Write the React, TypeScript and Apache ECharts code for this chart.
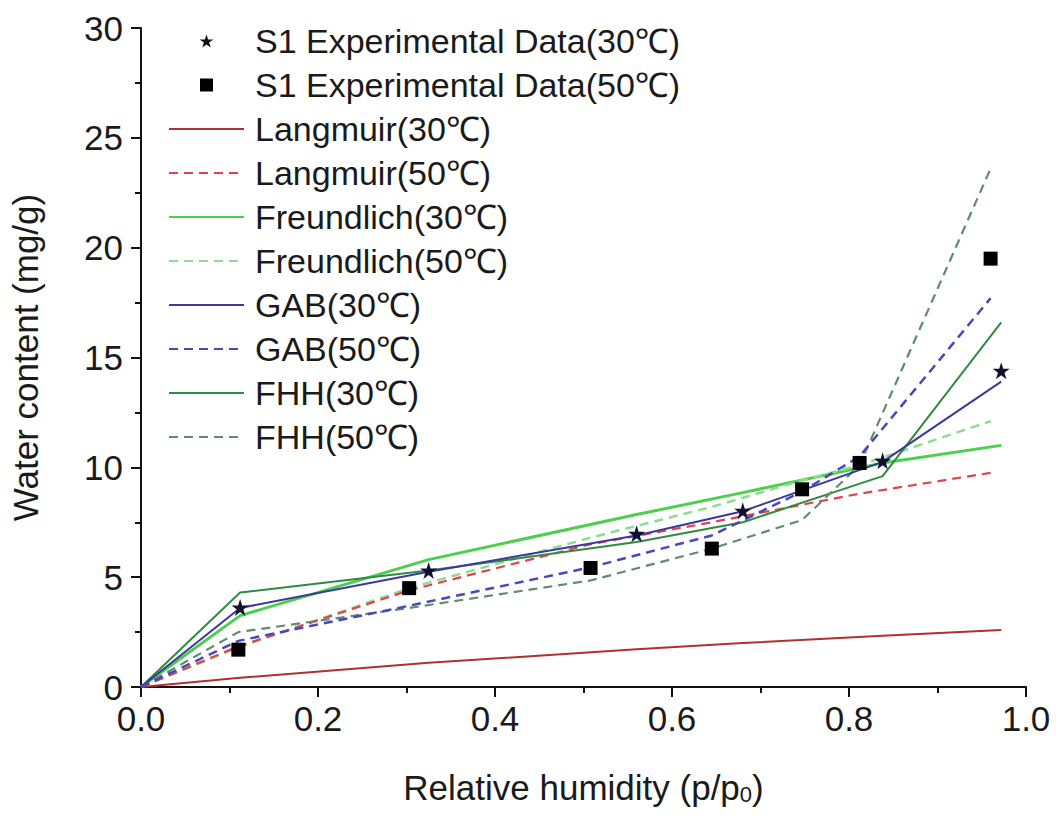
import React, { useEffect, useRef } from "react";
import * as echarts from "echarts";

// x positions (relative humidity) at which the 30 °C and 50 °C curves are evaluated
const x30 = [0, 0.112, 0.325, 0.56, 0.68, 0.838, 0.972];
const x50 = [0, 0.11, 0.303, 0.508, 0.645, 0.747, 0.812, 0.96];

// Experimental data
const expX30 = [0.112, 0.325, 0.56, 0.68, 0.838, 0.972];
const expY30 = [3.62, 5.3, 6.98, 8.02, 10.3, 14.4];
const expX50 = [0.11, 0.303, 0.508, 0.645, 0.747, 0.812, 0.96];
const expY50 = [1.7, 4.5, 5.42, 6.3, 9.0, 10.2, 19.5];

// Model curves
const langmuir30 = [0, 0.42, 1.1, 1.72, 2.0, 2.33, 2.6];
const freundlich30 = [0, 3.25, 5.8, 7.85, 8.85, 10.2, 11.0];
const gab30 = [0, 3.6, 5.25, 6.9, 8.0, 10.25, 13.9];
const fhh30 = [0, 4.3, 5.3, 6.6, 7.5, 9.6, 16.6];
const langmuir50 = [0, 1.85, 4.4, 6.5, 7.5, 8.3, 8.8, 9.75];
const freundlich50 = [0, 1.8, 4.5, 6.8, 8.2, 9.4, 10.1, 12.1];
const gab50 = [0, 2.1, 3.7, 5.45, 6.9, 8.9, 10.5, 17.7];
const fhh50 = [0, 2.5, 3.6, 4.85, 6.3, 7.6, 10.1, 23.6];

const xTicks = [0, 0.2, 0.4, 0.6, 0.8, 1.0];
const yTicks = [0, 5, 10, 15, 20, 25, 30];

const FONT = "'Liberation Sans', Arial, 'Noto Sans', sans-serif";
const STAR =
  "path://M50,0 L61.2,34.5 L97.6,34.5 L68.2,55.9 L79.4,90.5 L50,69.1 L20.6,90.5 L31.8,55.9 L2.4,34.5 L38.8,34.5 Z";
const SQUARE = "path://M0,0 L10,0 L10,10 L0,10 Z";

const pairs = (xs: number[], ys: number[]) => xs.map((x, i) => [x, ys[i]]);

const lineSeries = (
  name: string,
  xs: number[],
  ys: number[],
  color: string,
  width: number,
  dashed: boolean,
  z: number
) => ({
  name,
  type: "line",
  data: pairs(xs, ys),
  symbol: "none",
  smooth: false,
  lineStyle: { color, width, type: dashed ? [9, 6] : "solid" },
  itemStyle: { color },
  z,
});

export default function App() {
  const ref = useRef<HTMLDivElement>(null);
  useEffect(() => {
    if (!ref.current) return;
    const chart = echarts.init(ref.current, undefined, { renderer: "svg" });
    const names = [
      "S1 Experimental Data(30℃)",
      "S1 Experimental Data(50℃)",
      "Langmuir(30℃)",
      "Langmuir(50℃)",
      "Freundlich(30℃)",
      "Freundlich(50℃)",
      "GAB(30℃)",
      "GAB(50℃)",
      "FHH(30℃)",
      "FHH(50℃)",
    ];
    const legendData = names.map((n, i) => {
      if (i === 0) return { name: n, icon: STAR, itemStyle: { color: "#111", opacity: 1 } };
      if (i === 1) return { name: n, icon: SQUARE, itemStyle: { color: "#000", opacity: 1 } };
      return { name: n, itemStyle: { opacity: 0 } };
    });
    chart.setOption({
      animation: false,
      backgroundColor: "#ffffff",
      textStyle: { fontFamily: FONT },
      grid: { left: 133, right: 34, top: 28, bottom: 134, containLabel: false },
      legend: {
        orient: "vertical",
        left: 163,
        top: 14,
        itemWidth: 75,
        itemHeight: 13,
        itemGap: 0,
        symbolKeepAspect: true,
        data: legendData,
        textStyle: {
          fontFamily: FONT,
          fontSize: 34,
          color: "#1a1a1a",
          lineHeight: 44,
          padding: [0, 0, 0, 6],
        },
      },
      xAxis: {
        type: "value",
        min: 0,
        max: 1,
        interval: 0.2,
        name: "Relative humidity (p/p{sub|0})",
        nameLocation: "middle",
        nameGap: 82,
        nameTextStyle: {
          fontFamily: FONT,
          fontSize: 35,
          color: "#1a1a1a",
          rich: {
            sub: { fontSize: 22, fontFamily: FONT, color: "#1a1a1a", verticalAlign: "bottom", padding: [14, 0, 0, 0] },
          },
        },
        axisLine: { show: true, onZero: false, lineStyle: { color: "#111", width: 2 } },
        axisTick: { show: true, inside: false, length: 10, lineStyle: { color: "#111", width: 2 } },
        minorTick: { show: true, splitNumber: 2, length: 6, lineStyle: { color: "#111", width: 2 } },
        splitLine: { show: false },
        axisLabel: {
          fontFamily: FONT,
          fontSize: 35,
          color: "#1a1a1a",
          margin: 14,
          formatter: (v: number) => (xTicks.some((t) => Math.abs(t - v) < 1e-9) ? v.toFixed(1) : ""),
        },
      },
      yAxis: {
        type: "value",
        min: 0,
        max: 30,
        interval: 5,
        name: "Water content (mg/g)",
        nameLocation: "middle",
        nameGap: 98,
        nameRotate: 90,
        nameTextStyle: { fontFamily: FONT, fontSize: 35, color: "#1a1a1a" },
        axisLine: { show: true, onZero: false, lineStyle: { color: "#111", width: 2 } },
        axisTick: { show: true, inside: false, length: 10, lineStyle: { color: "#111", width: 2 } },
        minorTick: { show: true, splitNumber: 2, length: 6, lineStyle: { color: "#111", width: 2 } },
        splitLine: { show: false },
        axisLabel: {
          fontFamily: FONT,
          fontSize: 35,
          color: "#1a1a1a",
          margin: 18,
          formatter: (v: number) => (yTicks.includes(v) ? String(v) : ""),
        },
      },
      series: [
        {
          name: names[0],
          type: "scatter",
          data: pairs(expX30, expY30),
          symbol: STAR,
          symbolSize: 17,
          itemStyle: { color: "#101030", opacity: 1 },
          z: 20,
        },
        {
          name: names[1],
          type: "scatter",
          data: pairs(expX50, expY50),
          symbol: "rect",
          symbolSize: 14,
          itemStyle: { color: "#000", opacity: 1 },
          z: 20,
        },
        lineSeries(names[2], x30, langmuir30, "#b03030", 2, false, 5),
        lineSeries(names[3], x50, langmuir50, "#e2424c", 2.2, true, 5),
        lineSeries(names[4], x30, freundlich30, "#4ccf4c", 3, false, 4),
        lineSeries(names[5], x50, freundlich50, "#8fdc8f", 2.5, true, 4),
        lineSeries(names[6], x30, gab30, "#3a3a9c", 2, false, 6),
        lineSeries(names[7], x50, gab50, "#4747be", 2.5, true, 6),
        lineSeries(names[8], x30, fhh30, "#2f8a42", 2, false, 5),
        lineSeries(names[9], x50, fhh50, "#5f8c6c", 2.2, true, 5),
      ],
    });
    return () => chart.dispose();
  }, []);
  return (
    <div
      ref={ref}
      style={{ position: "fixed", left: 0, top: 0, width: 1060, height: 821, background: "#fff" }}
    />
  );
}
